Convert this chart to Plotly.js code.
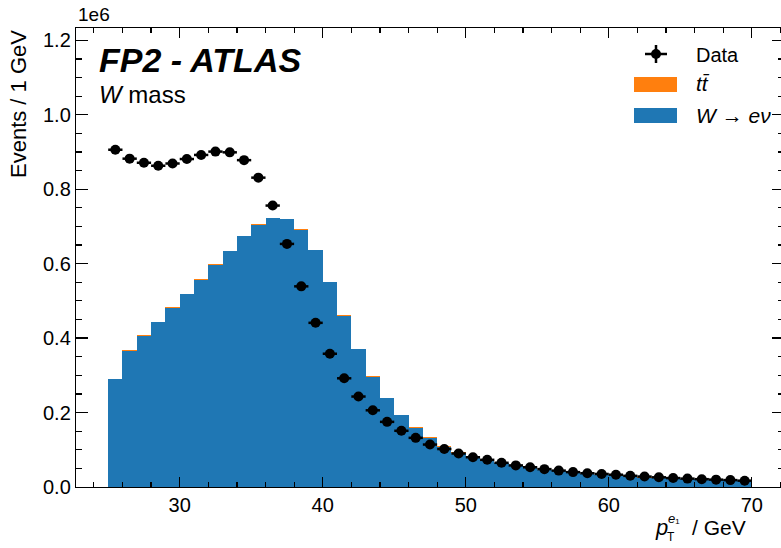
<!DOCTYPE html>
<html>
<head>
<meta charset="utf-8">
<script src="https://cdn.plot.ly/plotly-3.0.1.min.js"></script>
<style>
html, body { margin:0; padding:0; overflow:hidden; background:#fff; }
#plot { width:788px; height:548px; }
</style>
</head>
<body>
<div id="plot"></div>
<script>
// Bin centres (GeV), 1 GeV bins from 25 to 70
const binCenters = [25.5,26.5,27.5,28.5,29.5,30.5,31.5,32.5,33.5,34.5,35.5,36.5,37.5,38.5,39.5,40.5,41.5,42.5,43.5,44.5,45.5,46.5,47.5,48.5,49.5,50.5,51.5,52.5,53.5,54.5,55.5,56.5,57.5,58.5,59.5,60.5,61.5,62.5,63.5,64.5,65.5,66.5,67.5,68.5,69.5];

// Events / 1 GeV, in units of 1e6
const dataCounts = [0.906,0.882,0.871,0.863,0.869,0.881,0.892,0.901,0.899,0.878,0.831,0.756,0.653,0.539,0.441,0.358,0.292,0.243,0.206,0.175,0.151,0.132,0.114,0.102,0.090,0.080,0.073,0.065,0.058,0.053,0.048,0.044,0.040,0.037,0.035,0.033,0.030,0.028,0.026,0.024,0.0225,0.021,0.0198,0.0185,0.017];

const wenuCounts = [0.2895,0.3665,0.4055,0.4425,0.4815,0.5175,0.5565,0.5965,0.6335,0.6735,0.7045,0.7215,0.7195,0.6915,0.6355,0.5495,0.4595,0.3705,0.2965,0.2385,0.1925,0.1585,0.1315,0.1085,0.0925,0.0797,0.0708,0.0638,0.0569,0.0509,0.046,0.042,0.0381,0.0351,0.0322,0.0302,0.0272,0.0253,0.0233,0.0223,0.0204,0.0194,0.0184,0.0175,0.0165];

const ttbarCounts = [0.0015,0.0015,0.0015,0.0015,0.0015,0.0015,0.0015,0.0015,0.0015,0.0015,0.0015,0.0015,0.0015,0.0015,0.0015,0.0015,0.0015,0.0015,0.0015,0.0015,0.0015,0.0015,0.0015,0.0015,0.0015,0.0013,0.0012,0.0012,0.0011,0.0011,0.0010,0.0010,0.0009,0.0009,0.0008,0.0008,0.0008,0.0007,0.0007,0.0007,0.0006,0.0006,0.0006,0.0005,0.0005];

const labels = {data: "Data", ttbar: "<i>tt̄</i>", wenu: "<i>W</i> → <i>eν</i>"};

const BLUE = "#1f77b4", ORANGE = "#ff7f0e";
const FONT = "Liberation Sans, Arial, sans-serif";

// pixel -> paper helpers (plot area 76..784 x, 28..487 y)
const L = 76, R = 784, T = 28, B = 487;
const px = v => (v - L) / (R - L);
const py = v => (B - v) / (B - T);

const traces = [
  {type:"bar", x: binCenters, y: wenuCounts, width: 1, name: labels.wenu,
   marker:{color: BLUE, line:{width:0}}, showlegend:false},
  {type:"bar", x: binCenters, y: ttbarCounts, width: 1, name: labels.ttbar,
   marker:{color: ORANGE, line:{width:0}}, showlegend:false},
  {type:"scatter", mode:"markers", x: binCenters, y: dataCounts, name: labels.data,
   marker:{color:"black", size:10},
   error_x:{type:"constant", value:0.5, thickness:2.5, width:0, color:"black"},
   showlegend:false}
];

const annotations = [
  {text:"<b><i>FP2 - ATLAS</i></b>", x:px(97), y:py(60), xanchor:"left", yanchor:"middle", font:{family:FONT, size:34, color:"black"}},
  {text:"<i>W</i> mass", x:px(97), y:py(94), xanchor:"left", yanchor:"middle", font:{family:FONT, size:24, color:"black"}},
  {text:"1e6", x:px(76), y:py(15), xanchor:"left", yanchor:"middle", font:{family:FONT, size:19, color:"black"}},
  {text:"Events / 1 GeV", textangle:-90, x:px(18), y:py(28), xanchor:"center", yanchor:"top", font:{family:FONT, size:22, color:"black"}},
  // legend texts
  {text:labels.data, x:px(694), y:py(55), xanchor:"left", yanchor:"middle", font:{family:FONT, size:20, color:"black"}},
  {text:labels.ttbar, x:px(694), y:py(84), xanchor:"left", yanchor:"middle", font:{family:FONT, size:21, color:"black"}},
  {text:labels.wenu, x:px(694), y:py(115), xanchor:"left", yanchor:"middle", font:{family:FONT, size:21, color:"black"}},
  // x-axis title pieces
  {text:"<i>p</i>", x:px(653), y:py(527), xanchor:"left", yanchor:"middle", font:{family:FONT, size:22, color:"black"}},
  {text:"T", x:px(665), y:py(537), xanchor:"left", yanchor:"middle", font:{family:FONT, size:12, color:"black"}},
  {text:"<i>e</i>₁", x:px(666), y:py(518), xanchor:"left", yanchor:"middle", font:{family:FONT, size:13, color:"black"}},
  {text:"/ GeV", x:px(690), y:py(527), xanchor:"left", yanchor:"middle", font:{family:FONT, size:21, color:"black"}}
].map(a => Object.assign({xref:"paper", yref:"paper", showarrow:false}, a));

const shapes = [
  // Data legend icon
  {type:"line", x0:px(645), x1:px(667), y0:py(54), y1:py(54), line:{color:"black", width:2.5}},
  {type:"line", x0:px(656), x1:px(656), y0:py(45), y1:py(63), line:{color:"black", width:2.5}},
  {type:"circle", x0:px(651), x1:px(661), y0:py(49), y1:py(59), fillcolor:"black", line:{color:"black", width:0}},
  // patches
  {type:"rect", x0:px(634), x1:px(677), y0:py(77), y1:py(92), fillcolor:ORANGE, line:{width:0}},
  {type:"rect", x0:px(634), x1:px(677), y0:py(108), y1:py(123), fillcolor:BLUE, line:{width:0}}
].map(s => Object.assign({xref:"paper", yref:"paper"}, s));

const axisCommon = {
  showline:true, linecolor:"black", linewidth:1.2, mirror:"ticks",
  ticks:"inside", tickcolor:"black", tickwidth:1.2,
  showgrid:false, zeroline:false,
  tickfont:{family:FONT, size:20, color:"black"}
};

const layout = {
  width:788, height:548,
  margin:{l:L, r:788-R, t:T, b:548-B},
  paper_bgcolor:"white", plot_bgcolor:"white",
  barmode:"stack", bargap:0,
  showlegend:false,
  xaxis: Object.assign({}, axisCommon, {
    range:[22.75, 72.25], tickvals:[30,40,50,60,70], ticklen:10,
    minor:{dtick:2, tick0:0, ticklen:5, ticks:"inside", tickcolor:"black", tickwidth:1.2}
  }),
  yaxis: Object.assign({}, axisCommon, {
    range:[0, 1.233], tickvals:[0,0.2,0.4,0.6,0.8,1.0,1.2], ticktext:["0.0","0.2","0.4","0.6","0.8","1.0","1.2"],
    ticklen:12,
    minor:{dtick:0.05, tick0:0, ticklen:6, ticks:"inside", tickcolor:"black", tickwidth:1.2}
  }),
  annotations, shapes
};

Plotly.newPlot("plot", traces, layout, {staticPlot:true, displayModeBar:false});
</script>
</body>
</html>
